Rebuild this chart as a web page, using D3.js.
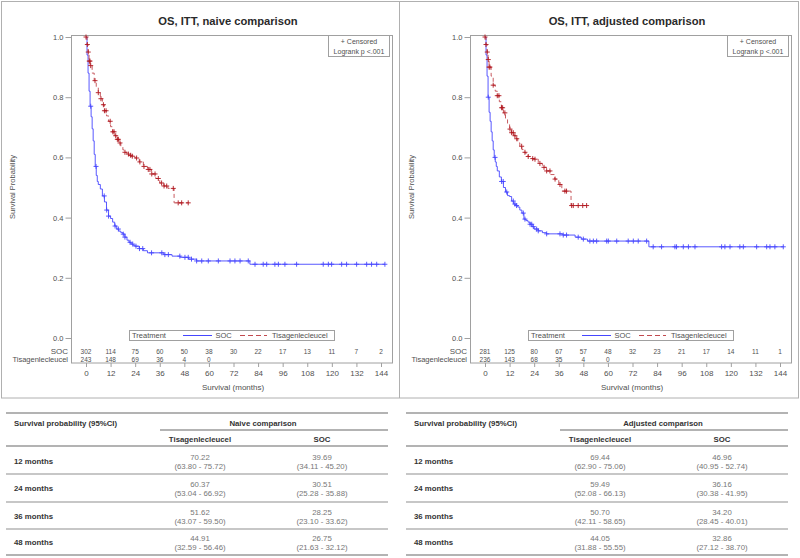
<!DOCTYPE html>
<html><head><meta charset="utf-8">
<script src="https://cdn.jsdelivr.net/npm/d3@7"></script>
<style>body{margin:0;background:#fff}svg{display:block;font-family:"Liberation Sans",Arial,sans-serif}</style>
</head><body><svg id="c" width="800" height="558"></svg>
<script>
// ---------- data ----------
const xTicks = [0,12,24,36,48,60,72,84,96,108,120,132,144];
const yTicks = [0,0.2,0.4,0.6,0.8,1.0];
const titles = ["OS, ITT, naive comparison","OS, ITT, adjusted comparison"];

// Naive: SOC
const socNaiveT = [0,0.5,1,1.5,2,2.5,3,3.5,4,4.5,5,5.5,6,7,8,9,10,11,12,13,14,15,16,17,18,19,20,21,22,23,24,26,28,30,38,42,46,50,54,80];
const socNaiveS = [1,0.94,0.88,0.82,0.77,0.735,0.695,0.655,0.61,0.57,0.54,0.52,0.51,0.495,0.472,0.452,0.425,0.405,0.397,0.385,0.372,0.362,0.355,0.35,0.345,0.335,0.325,0.318,0.312,0.308,0.305,0.297,0.29,0.283,0.277,0.272,0.268,0.262,0.256,0.245];
const socNaiveC = [2.3,4.9,8.9,10.1,11,14.2,15.8,18.2,19,21.5,22.8,24.4,26.1,27.7,32,37,38.5,40.2,45.8,48.3,49.9,51.5,54.0,56.5,59.7,64.6,70.3,72.7,75.2,79.2,82.5,86.5,88.2,92.2,93.9,97.1,102.8,115.8,118.3,119.9,124.8,127.2,132.1,137,139.4,141.9,145.9];
// Naive: Tisagenlecleucel
const tisNaiveT = [0,0.5,1,1.5,2,3,4,5,6,7,8,9,10,11,12,13,14,15,16,17,18,19,20,21,22,23,24,26,28,30,32,34,36,38,40,43];
const tisNaiveS = [1,0.975,0.95,0.92,0.905,0.88,0.855,0.835,0.815,0.795,0.775,0.755,0.738,0.72,0.702,0.685,0.672,0.66,0.648,0.636,0.625,0.617,0.611,0.607,0.604,0.602,0.598,0.585,0.57,0.56,0.545,0.53,0.515,0.505,0.497,0.449];
const tisNaiveC = [0,0.65,1.1,1.6,1.95,2.3,4.4,6.0,7.3,8.5,9.0,9.8,11.8,13.1,13.7,14.5,15.3,15.8,16.6,19.0,20.7,21.8,22.6,24.7,26.3,28.3,30.4,31.2,32.1,33.7,35.3,36.9,38.1,39.4,42.6,45.0,46.7,49.9];

// Adjusted: SOC
const socAdjT = [0,0.5,1,1.5,2,2.5,3,3.5,4,4.5,5,5.5,6,7,8,9,10,11,12,13,14,15,16,17,18,19,20,21,22,23,24,26,28,30,38,44,47,50,80];
const socAdjS = [1,0.94,0.87,0.8,0.75,0.72,0.685,0.655,0.625,0.6,0.585,0.57,0.555,0.535,0.52,0.5,0.485,0.473,0.47,0.455,0.445,0.44,0.435,0.425,0.415,0.395,0.39,0.385,0.378,0.37,0.362,0.356,0.35,0.346,0.342,0.335,0.3286,0.322,0.303];
const socAdjC = [1.6,4.9,8.1,8.9,10.6,13.8,14.6,15.4,18.7,19.5,22,22.8,23.6,25.2,26,30.1,36.6,38.2,39.8,45.5,48,51.2,52.9,54.5,59.4,60.2,64.3,69.9,72.4,74.8,78.9,82.1,86.2,92.7,93.5,96.8,99.3,102.5,115.5,117.1,119.6,124.4,126.1,132.6,137.5,139.1,141.5,145.6];
// Adjusted: Tisagenlecleucel
const tisAdjT = [0,0.5,1,1.5,2,3,4,5,6,7,8,9,10,11,12,13,14,15,16,17,18,19,20,21,22,23,24,26,28,30,32,34,36,37.5,42];
const tisAdjS = [1,0.975,0.95,0.925,0.9,0.87,0.84,0.82,0.805,0.785,0.765,0.748,0.73,0.712,0.694,0.682,0.672,0.662,0.648,0.637,0.626,0.617,0.609,0.603,0.599,0.596,0.594,0.58,0.567,0.555,0.543,0.528,0.51,0.488,0.44];
const tisAdjC = [0,0.5,1.1,1.6,2.0,2.4,4.0,6.0,6.8,8.1,8.6,9.7,12.2,13.0,13.8,14.6,15.5,17.9,19.5,21.1,23.3,24.4,26.8,28.8,30.1,31.7,34.2,36.6,39.0,39.8,42.3,43.1,45.5,47.7,49.6];

// numbers at risk
const riskSocNaive = [302,114,75,60,50,38,30,22,17,13,11,7,2];
const riskTisNaive = [243,148,69,36,4,0];
const riskSocAdj = [281,125,80,67,57,48,32,23,21,17,14,11,1];
const riskTisAdj = [236,143,68,35,4,0];

// summary tables
const rowLabels = ["12 months","24 months","36 months","48 months"];
const tableTitles = ["Naive comparison","Adjusted  comparison"];
const tisNaiveEst = ["70.22","60.37","51.62","44.91"];
const tisNaiveCI = ["(63.80 - 75.72)","(53.04 - 66.92)","(43.07 - 59.50)","(32.59 - 56.46)"];
const socNaiveEst = ["39.69","30.51","28.25","26.75"];
const socNaiveCI = ["(34.11 - 45.20)","(25.28 - 35.88)","(23.10 - 33.62)","(21.63 - 32.12)"];
const tisAdjEst = ["69.44","59.49","50.70","44.05"];
const tisAdjCI = ["(62.90 - 75.06)","(52.08 - 66.13)","(42.11 - 58.65)","(31.88 - 55.55)"];
const socAdjEst = ["46.96","36.16","34.20","32.86"];
const socAdjCI = ["(40.95 - 52.74)","(30.38 - 41.95)","(28.45 - 40.01)","(27.12 - 38.70)"];

// ---------- drawing ----------
const svg = d3.select("#c");
const BLUE = "#4646ff", RED = "#c24a4f", RED_MK = "#b0161e", GRAY = "#a0a0a0", TXT = "#505050";

// outer panel borders
svg.append("rect").attr("x",1.5).attr("y",1.5).attr("width",797).attr("height",396.5)
  .attr("fill","none").attr("stroke","#b0b0b0");
svg.append("line").attr("x1",399.5).attr("x2",399.5).attr("y1",1.5).attr("y2",398)
  .attr("stroke","#b0b0b0");

function stepAt(T,S,t){ let v=S[0]; for(let i=0;i<T.length;i++){ if(T[i]<=t) v=S[i]; } return v; }

function panel(off, title, soc, tis, rSoc, rTis){
  const g = svg.append("g").attr("transform",`translate(${off},0)`);
  const x = d3.scaleLinear().domain([0,144]).range([86,381]);
  const y = d3.scaleLinear().domain([0,1]).range([338,37]);
  // frame
  g.append("rect").attr("x",71.5).attr("y",35.5).attr("width",321).attr("height",327.5)
    .attr("fill","none").attr("stroke",GRAY);
  // title
  g.append("text").attr("x",228).attr("y",25).attr("text-anchor","middle")
    .attr("font-size",11.2).attr("font-weight","bold").attr("fill","#2a2a2a").text(title);
  // y axis
  const ya = g.append("g").attr("transform","translate(71.5,0)")
    .call(d3.axisLeft(y).tickValues(yTicks).tickFormat(d3.format(".1f")).tickSize(6).tickPadding(2));
  ya.select(".domain").remove();
  ya.selectAll("line").attr("stroke",GRAY);
  ya.selectAll("text").attr("font-size",7.5).attr("fill",TXT).attr("font-family","Liberation Sans, Arial");
  // x axis
  const xa = g.append("g").attr("transform","translate(0,363)")
    .call(d3.axisBottom(x).tickValues(xTicks).tickSize(4).tickPadding(3));
  xa.select(".domain").remove();
  xa.selectAll("line").attr("stroke",GRAY);
  xa.selectAll("text").attr("font-size",8).attr("fill",TXT).attr("font-family","Liberation Sans, Arial");
  // axis labels
  g.append("text").attr("transform","translate(15,187) rotate(-90)").attr("text-anchor","middle")
    .attr("font-size",7.5).attr("fill",TXT).text("Survival Probability");
  g.append("text").attr("x",233).attr("y",390).attr("text-anchor","middle")
    .attr("font-size",8).attr("fill",TXT).text("Survival (months)");
  // curves
  const line = d3.line().curve(d3.curveStepAfter).x(d=>x(d[0])).y(d=>y(d[1]));
  function curve(c, color, dash, mk){
    const pts = c.T.map((t,i)=>[t,c.S[i]]);
    const tEnd = d3.max(c.C);
    pts.push([Math.max(tEnd,c.T[c.T.length-1]), c.S[c.S.length-1]]);
    g.append("path").datum(pts).attr("d",line).attr("fill","none").attr("stroke",color)
      .attr("stroke-width",0.9).attr("stroke-dasharray",dash);
    g.append("g").selectAll("path").data(c.C).join("path")
      .attr("transform",d=>`translate(${x(d)},${y(stepAt(c.T,c.S,d))})`)
      .attr("d","M-2.5,0H2.5M0,-2.5V2.5").attr("stroke",mk).attr("stroke-width",0.9).attr("fill","none");
  }
  curve(soc, BLUE, null, BLUE);
  curve(tis, RED, "4,3", RED_MK);
  // censored legend
  g.append("rect").attr("x",328.5).attr("y",35.5).attr("width",61).attr("height",21)
    .attr("fill","#fff").attr("stroke",GRAY);
  g.append("text").attr("x",359).attr("y",44).attr("text-anchor","middle").attr("font-size",7)
    .attr("fill",TXT).text("+ Censored");
  g.append("text").attr("x",359).attr("y",53.5).attr("text-anchor","middle").attr("font-size",7)
    .attr("fill",TXT).text("Logrank p  <.001");
  // treatment legend
  g.append("rect").attr("x",129.5).attr("y",330.5).attr("width",205).attr("height",10)
    .attr("fill","#fff").attr("stroke",GRAY);
  g.append("text").attr("x",132).attr("y",338.3).attr("font-size",7.5).attr("fill",TXT).text("Treatment");
  g.append("line").attr("x1",183).attr("x2",212).attr("y1",335.5).attr("y2",335.5).attr("stroke",BLUE);
  g.append("text").attr("x",215.5).attr("y",338.3).attr("font-size",7.5).attr("fill",TXT).text("SOC");
  g.append("line").attr("x1",240).attr("x2",267).attr("y1",335.5).attr("y2",335.5).attr("stroke",RED).attr("stroke-dasharray","5,3");
  g.append("text").attr("x",272).attr("y",338.3).attr("font-size",7.5).attr("fill",TXT).text("Tisagenlecleucel");
  // at risk
  g.append("text").attr("x",68).attr("y",353.5).attr("text-anchor","end").attr("font-size",8).attr("fill",TXT).text("SOC");
  g.append("text").attr("x",68).attr("y",362).attr("text-anchor","end").attr("font-size",7.5).attr("fill",TXT).text("Tisagenlecleucel");
  g.append("g").selectAll("text").data(rSoc).join("text")
    .attr("x",(d,i)=>x(xTicks[i])).attr("y",353.5).attr("text-anchor","middle")
    .attr("font-size",6.5).attr("fill",TXT).text(d=>d);
  g.append("g").selectAll("text").data(rTis).join("text")
    .attr("x",(d,i)=>x(xTicks[i])).attr("y",362).attr("text-anchor","middle")
    .attr("font-size",6.5).attr("fill",TXT).text(d=>d);
}

panel(0, titles[0], {T:socNaiveT,S:socNaiveS,C:socNaiveC}, {T:tisNaiveT,S:tisNaiveS,C:tisNaiveC}, riskSocNaive, riskTisNaive);
panel(399, titles[1], {T:socAdjT,S:socAdjS,C:socAdjC}, {T:tisAdjT,S:tisAdjS,C:tisAdjC}, riskSocAdj, riskTisAdj);

// ---------- tables ----------
function table(off, heading, tE, tC, sE, sC){
  const g = svg.append("g").attr("transform",`translate(${off},0)`);
  const L = 6, R = 388, c1 = 200, c2 = 322;
  const rowY = [461,488,516,542];
  const hl = (y,x1,x2,w,col)=>g.append("line").attr("x1",x1).attr("x2",x2).attr("y1",y).attr("y2",y)
      .attr("stroke",col).attr("stroke-width",w);
  hl(413,L,R,1.5,"#9a9a9a");
  hl(430,160,R,1.5,"#9a9a9a");
  hl(446,L,R,1.5,"#9a9a9a");
  [474,502,529].forEach(y=>hl(y,L,R,1.5,"#b4b4b4"));
  hl(555,L,R,1.5,"#9a9a9a");
  g.append("text").attr("x",14).attr("y",425.5).attr("font-size",7.8).attr("font-weight","bold")
    .attr("fill","#333").text("Survival probability (95%CI)");
  g.append("text").attr("x",263).attr("y",425.5).attr("text-anchor","middle").attr("font-size",7.8)
    .attr("font-weight","bold").attr("fill","#333").text(heading);
  g.append("text").attr("x",c1).attr("y",441.5).attr("text-anchor","middle").attr("font-size",7.8)
    .attr("font-weight","bold").attr("fill","#333").text("Tisagenlecleucel");
  g.append("text").attr("x",c2).attr("y",441.5).attr("text-anchor","middle").attr("font-size",7.8)
    .attr("font-weight","bold").attr("fill","#333").text("SOC");
  g.append("g").selectAll("text").data(rowLabels).join("text")
    .attr("x",14).attr("y",(d,i)=>rowY[i]+3).attr("font-size",7.8).attr("font-weight","bold")
    .attr("fill","#333").text(d=>d);
  const vals = (arr,cx,dy)=>g.append("g").selectAll("text").data(arr).join("text")
    .attr("x",cx).attr("y",(d,i)=>rowY[i]+dy).attr("text-anchor","middle").attr("font-size",7.8)
    .attr("fill","#777").text(d=>d);
  vals(tE,c1,-1.5); vals(tC,c1,8); vals(sE,c2,-1.5); vals(sC,c2,8);
}
table(0, tableTitles[0], tisNaiveEst, tisNaiveCI, socNaiveEst, socNaiveCI);
table(400, tableTitles[1], tisAdjEst, tisAdjCI, socAdjEst, socAdjCI);
</script></body></html>
